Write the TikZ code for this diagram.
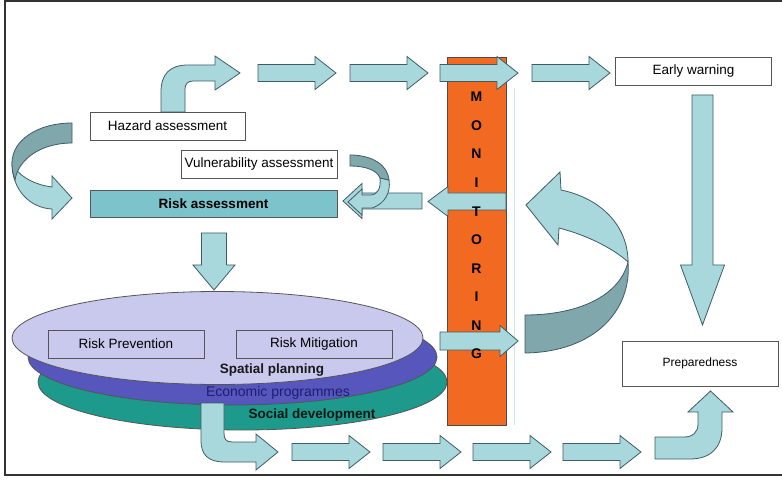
\documentclass[tikz,border=0pt]{standalone}
\usepackage{fontspec}
\setmainfont{Liberation Sans}
\definecolor{arrowfill}{HTML}{A8D8DC}
\definecolor{arrowdark}{HTML}{7FA7AC}
\definecolor{arrowline}{HTML}{3E5C63}
\definecolor{riskfill}{HTML}{7CC3CB}
\definecolor{monorange}{HTML}{F26A22}
\definecolor{lavender}{HTML}{C9C9EE}
\definecolor{planblue}{HTML}{5656BC}
\definecolor{socteal}{HTML}{1D9A8B}
\definecolor{boxline}{HTML}{555555}
\definecolor{econtext}{HTML}{1E1E72}
\definecolor{faintline}{HTML}{CFE6EA}

\tikzset{
  blockarrow/.style={fill=arrowfill, draw=arrowline, line width=0.8pt, line join=miter},
  darkfold/.style={fill=arrowdark, draw=arrowline, line width=0.8pt},
  labelbox/.style={draw=boxline, line width=0.9pt, fill=white, inner sep=0pt,
                   font=\fontsize{13.5}{15}\selectfont},
  innerbox/.style={labelbox, fill=lavender},
  layer/.style={draw=boxline, line width=0.8pt},
  layertext/.style={font=\fontsize{13.5}{15}\selectfont\bfseries, inner sep=0pt},
  monletter/.style={font=\fontsize{14}{16}\selectfont\bfseries, inner sep=0pt},
  frameline/.style={draw=black!80, line width=2pt}
}

% straight block arrow: tail x, tail y, angle, length, shaft half-width, head half-width, head length
\newcommand{\blockarrow}[7]{%
  \begin{scope}[shift={(#1,#2)},rotate=#3]
    \draw[blockarrow] (0,-#5) -- (#4-#7,-#5) -- (#4-#7,-#6) -- (#4,0)
      -- (#4-#7,#6) -- (#4-#7,#5) -- (0,#5) -- cycle;
  \end{scope}}

\begin{document}
\begin{tikzpicture}[x=1pt,y=-1pt]
\useasboundingbox (0,0) rectangle (782,481);

% outer frame
\draw[frameline] (4.5,476) -- (4.5,1.5) -- (782,1.5);
\draw[frameline] (4.5,474.5) -- (782,474.5);

% stacked planning layers
\draw[layer, fill=socteal]  (242.5,382) ellipse [x radius=204.5, y radius=48];
\draw[layer, fill=planblue] (232.5,357) ellipse [x radius=204.5, y radius=48];
\draw[layer, fill=lavender] (217.5,338) ellipse [x radius=205.5, y radius=46.5];
\node[innerbox, minimum width=156pt, minimum height=28pt] (prevention) at (126,344) {Risk Prevention};
\node[innerbox, minimum width=156pt, minimum height=28pt] (mitigation) at (314,344) {Risk Mitigation};
\node[layertext, text=black!90] (spatial) at (272,370) {Spatial planning};
\node[font=\fontsize{14}{16}\selectfont, inner sep=0pt, text=econtext] (economic) at (278,393) {Economic programmes};
\node[layertext, text=black!85!socteal] (social) at (312,415) {Social development};

% monitoring bar
\draw[faintline, line width=1pt] (514,88) -- (514,425);
\node[draw=black!70, line width=0.8pt, fill=monorange, minimum width=59pt, minimum height=368pt, inner sep=0pt]
  (monitor) at (476.5,241) {};

% upper chain: hazard -> early warning
\draw[blockarrow] (161,112) -- (161,92) .. controls (161,74) and (170,65) .. (188,65)
  -- (215,65) -- (215,56) -- (240,73) -- (215,90) -- (215,81) -- (193,81)
  .. controls (188,81) and (185,84) .. (185,89) -- (185,112) -- cycle;
\blockarrow{258}{73}{0}{78}{8.5}{16.5}{21}
\blockarrow{350}{73}{0}{78}{8.5}{16.5}{21}
\blockarrow{440}{73}{0}{78}{8.5}{16.5}{21}
\blockarrow{532}{73}{0}{78}{8.5}{16.5}{21}

% early warning down to preparedness
\blockarrow{702.5}{95}{-90}{230}{10.5}{22}{60}

% arrows into risk assessment
\blockarrow{506}{201.5}{180}{78}{8.5}{15}{20}
\blockarrow{422}{201}{180}{79}{8}{17.5}{19}
% curved arrow from vulnerability assessment
\draw[blockarrow] (362,195) -- (362,189) -- (348,202) -- (362,215) -- (362,208) -- (372,208)
  .. controls (385,204) and (391,192) .. (389,180) -- (380,178)
  .. controls (381,188) and (378,195) .. (370,195) -- cycle;
\draw[darkfold] (350,155) .. controls (372,155) and (388,165) .. (389,180) -- (380,178)
  .. controls (377,170) and (365,166) .. (350,166) -- cycle;

% curved arrow on the left, hazard to risk
\draw[blockarrow] (12,163) .. controls (12,190) and (30,208) .. (52,209) -- (52,219) -- (72,198)
  -- (52,176) -- (52,187) .. controls (36,185) and (22,178) .. (15,168) -- cycle;
\draw[darkfold] (72,123) .. controls (38,123) and (12,140) .. (12,163)
  .. controls (12,170) and (13,175) .. (15,180)
  .. controls (18,160) and (40,143) .. (72,143) -- cycle;

% risk assessment down to the planning layers
\blockarrow{214}{233}{-90}{57}{12.5}{21}{25}

% feedback loop through monitoring
\blockarrow{440}{341}{0}{78}{9}{15.5}{18}
\draw[darkfold] (525,315) .. controls (580,315) and (620,295) .. (628,262)
  .. controls (632,310) and (595,352) .. (525,353) -- cycle;
\draw[blockarrow] (628,262) .. controls (628,225) and (600,198) .. (561,190) -- (560,172)
  -- (526,205) -- (558,245) -- (559,228) .. controls (590,236) and (615,250) .. (628,262) -- cycle;

% lower chain: layers -> preparedness
\draw[blockarrow] (201,403) -- (201,440) .. controls (201,455) and (208,462) .. (225,462)
  -- (256,462) -- (256,470) -- (278,452) -- (256,434) -- (256,442) -- (232,442)
  .. controls (226,442) and (224,439) .. (224,433) -- (224,403) -- cycle;
\blockarrow{292}{452}{0}{78}{8.5}{16.5}{21}
\blockarrow{383}{452}{0}{78}{8.5}{16.5}{21}
\blockarrow{473}{452}{0}{78}{8.5}{16.5}{21}
\blockarrow{563}{452}{0}{78}{8.5}{16.5}{21}
\draw[blockarrow] (655,437) -- (684,437) .. controls (693,437) and (698,432) .. (698,424)
  -- (698,412) -- (688,412) -- (710.5,391) -- (733,412) -- (722,412) -- (722,428)
  .. controls (722,448) and (710,459) .. (690,459) -- (655,459) -- cycle;

% MONITORING lettering
\foreach \ch [count=\i from 0] in {M,O,N,I,T,O,R,I,N,G}
  \node[monletter] (mon\i) at (476.5,{97+28.56*\i}) {\ch};

% process boxes
\node[labelbox, minimum width=155pt, minimum height=28pt] (hazard) at (167.5,126) {Hazard assessment};
\node[labelbox, minimum width=156pt, minimum height=28pt] (vulner) at (259,164.5) {Vulnerability assessment};
\node[labelbox, fill=riskfill, minimum width=247pt, minimum height=27pt, font=\fontsize{13.5}{15}\selectfont\bfseries]
  (risk) at (213.5,204) {Risk assessment};
\node[labelbox, minimum width=156pt, minimum height=28pt] (early) at (693.5,71) {Early warning};
\node[labelbox, minimum width=156pt, minimum height=45pt, font=\fontsize{12}{14}\selectfont]
  (prep) at (700,363.5) {Preparedness};
\end{tikzpicture}
\end{document}
